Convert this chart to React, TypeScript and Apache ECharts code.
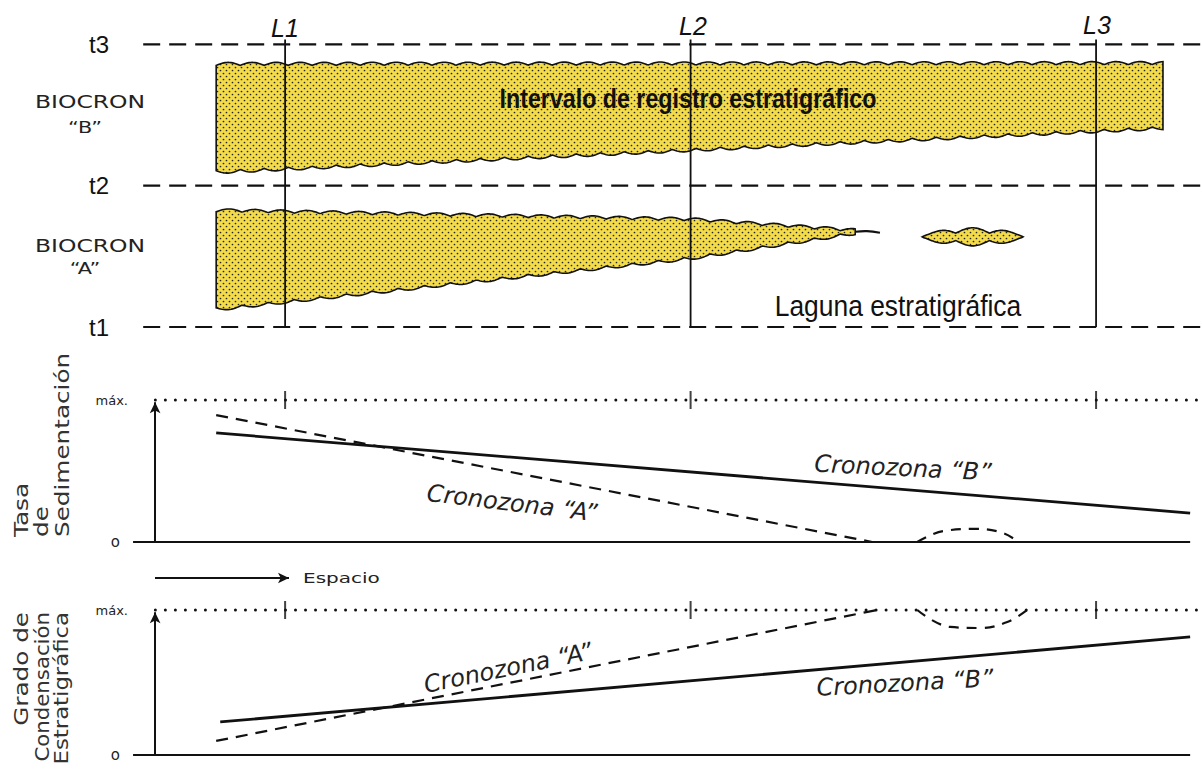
import React, { useEffect, useRef } from 'react';
import * as echarts from 'echarts';

// ---------- data ----------
// x = distance along the section (L1 = 100, L2 = 200, L3 = 300)
const SECTIONS = [
  { name: 'L1', x: 100 },
  { name: 'L2', x: 200 },
  { name: 'L3', x: 300 },
];
const TIME_LEVELS = [1, 2, 3]; // t1, t2, t3
const X_MIN = 61.5;
const X_MAX = 326;
const T_LINE_RANGE = [65, 326];
const SECTION_TOP = 3.035;

// biocron bands: [x, top (t), bottom (t)]
const BIOCRON_B = [
  [83, 2.851, 2.106],
  [316.5, 2.857, 2.418],
];
const BIOCRON_A = [
  [83, 1.816, 1.135],
  [200, 1.752, 1.496],
  [240.6, 1.674, 1.674],
];
const BIOCRON_A_TAIL = [
  [240.6, 1.674],
  [243.5, 1.678],
  [246.7, 1.667],
];
const BIOCRON_A_LENS = { start: 257.1, end: 282, center: 1.638, half: 0.064 };

// Tasa de sedimentación (0 .. 1 = máx.)
const SED_B = [
  [83, 0.768],
  [323.2, 0.204],
];
const SED_A = [
  [83, 0.894],
  [244.8, 0],
];
const SED_A_LENS = [
  [255.9, 0],
  [262.3, 0.077],
  [270.7, 0.092],
  [277.1, 0.063],
  [280.8, 0],
];

// Grado de condensación estratigráfica (0 .. 1 = máx.)
const CON_B = [
  [84, 0.228],
  [323.2, 0.814],
];
const CON_A = [
  [83, 0.097],
  [246, 1],
];
const CON_A_LENS = [
  [255.9, 1],
  [264, 0.883],
  [271.4, 0.876],
  [278.1, 0.917],
  [283, 1],
];

const BASE_RANGE = [62.5, 323.2];
const MAX_RANGE = [68, 326];
const ARROW_X = 67.94;

// ---------- helpers ----------
const INK = '#111';
const YELLOW = '#f3db4e';

function makeDotPattern(): any {
  const size = 6;
  const c = document.createElement('canvas');
  c.width = size;
  c.height = size;
  const ctx = c.getContext('2d') as CanvasRenderingContext2D;
  ctx.fillStyle = YELLOW;
  ctx.fillRect(0, 0, size, size);
  ctx.fillStyle = '#262414';
  ctx.beginPath();
  ctx.arc(1.5, 1.5, 0.85, 0, Math.PI * 2);
  ctx.fill();
  ctx.beginPath();
  ctx.arc(4.5, 4.5, 0.85, 0, Math.PI * 2);
  ctx.fill();
  return { image: c.toDataURL(), repeat: 'repeat', imageWidth: size, imageHeight: size };
}

function interp(pts: number[][], x: number): number {
  if (x <= pts[0][0]) return pts[0][1];
  for (let i = 0; i < pts.length - 1; i++) {
    const a = pts[i];
    const b = pts[i + 1];
    if (x <= b[0]) {
      const f = (x - a[0]) / (b[0] - a[0] || 1);
      return a[1] + f * (b[1] - a[1]);
    }
  }
  return pts[pts.length - 1][1];
}

function bandPoints(api: any, stations: number[][], amp: number, wl: number) {
  const tops = stations.map((s) => api.coord([s[0], s[1]]));
  const bots = stations.map((s) => api.coord([s[0], s[2]]));
  const x0 = tops[0][0];
  const x1 = tops[tops.length - 1][0];
  const n = Math.max(2, Math.round((x1 - x0) / 1.5));
  const top: number[][] = [];
  const bot: number[][] = [];
  for (let i = 0; i <= n; i++) {
    const x = x0 + ((x1 - x0) * i) / n;
    const w = Math.abs(Math.sin((Math.PI * (x - x0)) / wl));
    top.push([x, interp(tops, x) - amp * w]);
    bot.push([x, interp(bots, x) + amp * w]);
  }
  return top.concat(bot.reverse());
}

function lensPoints(api: any, lens: any) {
  const [xs, yc] = api.coord([lens.start, lens.center]);
  const [xe] = api.coord([lens.end, lens.center]);
  const h = api.coord([lens.start, lens.center - lens.half])[1] - yc;
  const n = Math.round((xe - xs) / 1.2);
  const top: number[][] = [];
  const bot: number[][] = [];
  for (let i = 0; i <= n; i++) {
    const s = i / n;
    const x = xs + (xe - xs) * s;
    const env = Math.pow(Math.sin(Math.PI * s), 0.6);
    const bead = 0.45 + 0.55 * Math.abs(Math.sin(3 * Math.PI * s));
    top.push([x, yc - h * env * bead]);
    bot.push([x, yc + h * env * bead]);
  }
  return top.concat(bot.reverse());
}

const lineS = (data: any[], grid: number, style: any, extra: any = {}) => ({
  type: 'line',
  xAxisIndex: grid,
  yAxisIndex: grid,
  data,
  symbol: 'none',
  silent: true,
  clip: false,
  lineStyle: { color: INK, ...style },
  z: 3,
  ...extra,
});

const arrowMark = (lines: any[]) => ({
  silent: true,
  symbol: ['none', 'arrow'],
  symbolSize: [8, 11],
  label: { show: false },
  lineStyle: { color: INK, width: 2, type: 'solid' },
  emphasis: { disabled: true },
  data: lines,
});

const txt = (text: string, x: number, y: number, o: any = {}) => ({
  type: 'text',
  x,
  y,
  rotation: o.rotation || 0,
  scaleX: o.scaleX || 1,
  scaleY: o.scaleY || 1,
  z: 100,
  silent: true,
  style: {
    text,
    fontSize: o.fontSize || 16,
    fontFamily: o.fontFamily || '"DejaVu Sans"',
    fontStyle: o.fontStyle || 'normal',
    fontWeight: o.fontWeight || 'normal',
    fill: o.fill || '#222',
    align: o.align || 'center',
    verticalAlign: 'middle',
  },
});

export default function App() {
  const ref = useRef<HTMLDivElement>(null);

  useEffect(() => {
    if (!ref.current) return;
    const chart = echarts.init(ref.current, null, { renderer: 'svg' });
    const pattern = makeDotPattern();

    const grids = [
      { left: 129, width: 1072.5, top: 39.4, height: 287.6 },
      { left: 129, width: 1072.5, top: 400, height: 142 },
      { left: 129, width: 1072.5, top: 610, height: 145 },
    ];
    const xAxis = grids.map((_, i) => ({
      type: 'value',
      gridIndex: i,
      min: X_MIN,
      max: X_MAX,
      show: false,
    }));
    const panelY = (i: number) => ({
      type: 'value',
      gridIndex: i,
      min: 0,
      max: 1,
      interval: 1,
      axisLine: { show: false },
      axisTick: { show: false },
      splitLine: { show: false },
      axisLabel: {
        margin: 1,
        color: '#222',
        fontSize: 13,
        fontFamily: '"DejaVu Sans"',
        formatter: (v: number) => (v === 1 ? 'máx.' : v === 0 ? '{o|o}' : ''),
        rich: { o: { fontSize: 15, fontFamily: '"DejaVu Sans"', color: '#222', padding: [0, 8, 0, 0] } },
      },
    });
    const yAxis = [
      {
        type: 'value',
        gridIndex: 0,
        min: 1,
        max: SECTION_TOP,
        interval: 1,
        axisLine: { show: false },
        axisTick: { show: false },
        splitLine: { show: false },
        axisLabel: {
          margin: 20,
          color: INK,
          fontSize: 24,
          fontFamily: '"Liberation Sans"',
          formatter: (v: number) => (TIME_LEVELS.includes(v) ? 't' + v : ''),
        },
      },
      panelY(1),
      panelY(2),
    ];

    const series: any[] = [];

    // bands
    series.push({
      type: 'custom',
      xAxisIndex: 0,
      yAxisIndex: 0,
      silent: true,
      z: 1,
      data: BIOCRON_B,
      renderItem: (params: any, api: any) => {
        if (params.dataIndex !== 0) return null;
        return {
          type: 'polygon',
          shape: { points: bandPoints(api, BIOCRON_B, 3, 24) },
          style: { fill: pattern, stroke: INK, lineWidth: 1.6 },
        };
      },
    });
    series.push({
      type: 'custom',
      xAxisIndex: 0,
      yAxisIndex: 0,
      silent: true,
      z: 1,
      data: BIOCRON_A,
      renderItem: (params: any, api: any) => {
        if (params.dataIndex !== 0) return null;
        return {
          type: 'group',
          children: [
            {
              type: 'polygon',
              shape: { points: bandPoints(api, BIOCRON_A, 3, 26) },
              style: { fill: pattern, stroke: INK, lineWidth: 1.6 },
            },
            {
              type: 'polyline',
              shape: { points: BIOCRON_A_TAIL.map((p) => api.coord(p)), smooth: 0.4 },
              style: { stroke: INK, lineWidth: 2.2, fill: 'none' },
            },
            {
              type: 'polygon',
              shape: { points: lensPoints(api, BIOCRON_A_LENS) },
              style: { fill: pattern, stroke: INK, lineWidth: 1.6 },
            },
          ],
        };
      },
    });

    // time lines
    TIME_LEVELS.forEach((t) => {
      series.push(
        lineS([[T_LINE_RANGE[0], t], [T_LINE_RANGE[1], t]], 0, { width: 2.2, type: [17, 9] })
      );
    });
    // sections
    SECTIONS.forEach((s) => {
      series.push(lineS([[s.x, 1], [s.x, SECTION_TOP]], 0, { width: 1.8 }, { z: 4 }));
    });

    // panels
    const panels = [
      { g: 1, B: SED_B, A: SED_A, lens: SED_A_LENS },
      { g: 2, B: CON_B, A: CON_A, lens: CON_A_LENS },
    ];
    panels.forEach((p) => {
      const marks: any[] = [[{ coord: [ARROW_X, 0] }, { coord: [ARROW_X, 0.985] }]];
      if (p.g === 1) marks.push([{ x: 155, y: 578 }, { x: 289, y: 578 }]);
      series.push(
        lineS([[BASE_RANGE[0], 0], [BASE_RANGE[1], 0]], p.g, { width: 2 }, { markLine: arrowMark(marks) })
      );
      series.push(
        lineS([[MAX_RANGE[0], 1], [MAX_RANGE[1], 1]], p.g, { width: 3, type: [0.01, 10], cap: 'round' })
      );
      series.push({
        type: 'scatter',
        xAxisIndex: p.g,
        yAxisIndex: p.g,
        silent: true,
        symbol: 'rect',
        symbolSize: [2, 18],
        itemStyle: { color: INK },
        data: SECTIONS.map((s) => [s.x, 1]),
        z: 4,
      });
      series.push(lineS(p.B, p.g, { width: 2.8 }));
      series.push(lineS(p.A, p.g, { width: 2.2, type: [12, 8] }));
      series.push(lineS(p.lens, p.g, { width: 2.2, type: [10, 8] }, { smooth: 0.4 }));
    });

    const sideOpts = { rotation: Math.PI / 2, scaleX: 1.3, fontSize: 19, fill: '#333' };
    const croOpts = { fontSize: 24, fontStyle: 'italic', fill: '#222' };

    const graphic = [
      txt('BIOCRON', 90, 102, { fontSize: 17, scaleX: 1.38 }),
      txt('“B”', 85, 127, { fontSize: 16, scaleX: 1.3 }),
      txt('BIOCRON', 90, 246, { fontSize: 17, scaleX: 1.38 }),
      txt('“A”', 85, 268, { fontSize: 16, scaleX: 1.3 }),
      ...SECTIONS.map((s, i) =>
        txt(s.name, [285, 693, 1097][i], [28, 26, 25][i], {
          fontSize: 25,
          fontStyle: 'italic',
          fontFamily: '"Liberation Sans"',
          fill: INK,
        })
      ),
      txt('Intervalo de registro estratigráfico', 688, 98, {
        fontSize: 28,
        fontWeight: 'bold',
        fontFamily: '"Liberation Sans"',
        scaleX: 0.83,
        fill: INK,
      }),
      txt('Laguna estratigráfica', 898, 305, {
        fontSize: 30,
        fontFamily: '"Liberation Sans"',
        scaleX: 0.88,
        fill: INK,
      }),
      txt('Tasa', 22, 537, { ...sideOpts, align: 'left' }),
      txt('de', 42, 537, { ...sideOpts, align: 'left' }),
      txt('Sedimentación', 63, 537, { ...sideOpts, align: 'left' }),
      txt('Grado de', 22, 612, { ...sideOpts, align: 'right' }),
      txt('Condensación', 42, 612, { ...sideOpts, scaleX: 1.12, align: 'right' }),
      txt('Estratigráfica', 62, 612, { ...sideOpts, scaleX: 1.2, align: 'right' }),
      txt('Espacio', 303, 578, { fontSize: 14, scaleX: 1.43, align: 'left', fill: '#222' }),
      txt('Cronozona “B”', 903, 468, { ...croOpts, rotation: -0.05 }),
      txt('Cronozona “A”', 512, 503, { ...croOpts, rotation: -0.12 }),
      txt('Cronozona “A”', 508, 668, { ...croOpts, rotation: 0.2 }),
      txt('Cronozona “B”', 905, 683, { ...croOpts, rotation: 0.055 }),
    ];

    chart.setOption({
      animation: false,
      backgroundColor: '#ffffff',
      grid: grids,
      xAxis,
      yAxis,
      series,
      graphic,
    });

    return () => chart.dispose();
  }, []);

  return (
    <div
      ref={ref}
      style={{ position: 'absolute', left: 0, top: 0, width: 1202, height: 778, background: '#fff' }}
    />
  );
}
